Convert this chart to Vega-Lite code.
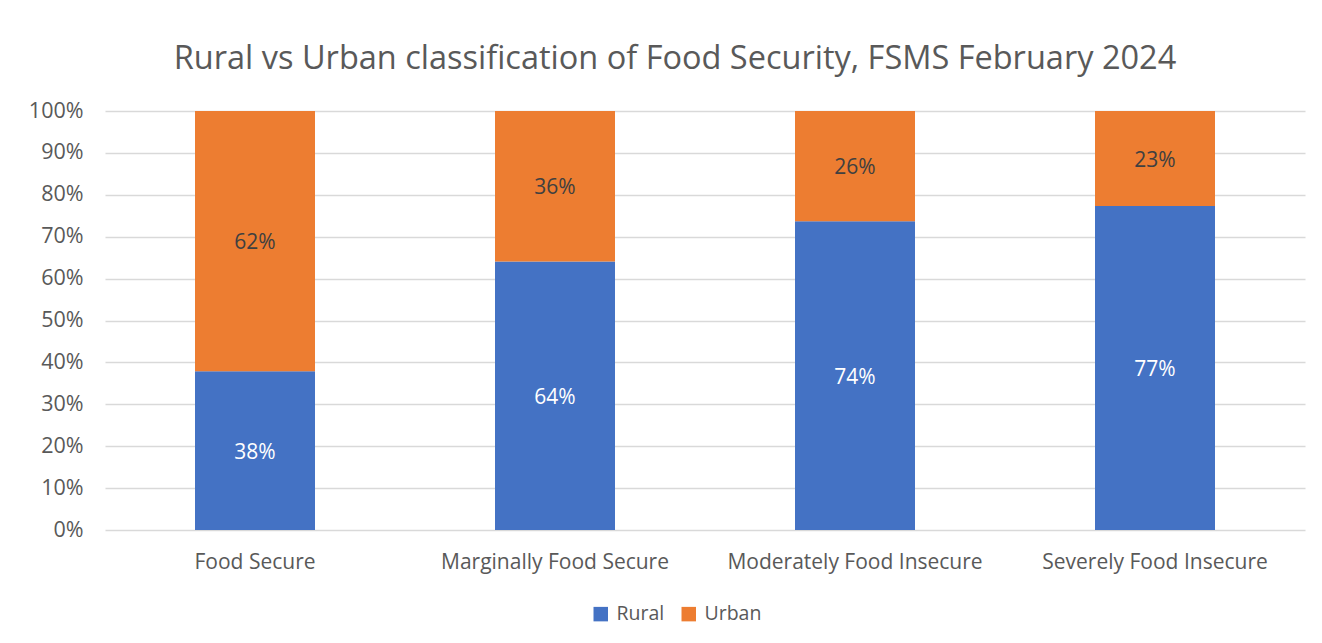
{
  "$schema": "https://vega.github.io/schema/vega-lite/v6.json",
  "autosize": {"type": "none"},
  "padding": {"left": 105, "top": 111, "right": 17, "bottom": 113},
  "width": 1200,
  "height": 419,
  "background": "white",
  "title": {
    "text": "Rural vs Urban classification of Food Security, FSMS February 2024",
    "font": "Open Sans",
    "fontSize": 32.5,
    "fontWeight": "normal",
    "color": "#595959",
    "anchor": "middle",
    "dx": -30,
    "offset": 25
  },
  "config": {
    "view": {"stroke": null},
    "font": "Open Sans"
  },
  "data": {
    "values": [
      {"category": "Food Secure", "type": "Rural", "value": 0.379},
      {"category": "Food Secure", "type": "Urban", "value": 0.621},
      {"category": "Marginally Food Secure", "type": "Rural", "value": 0.641},
      {"category": "Marginally Food Secure", "type": "Urban", "value": 0.359},
      {"category": "Moderately Food Insecure", "type": "Rural", "value": 0.737},
      {"category": "Moderately Food Insecure", "type": "Urban", "value": 0.263},
      {"category": "Severely Food Insecure", "type": "Rural", "value": 0.773},
      {"category": "Severely Food Insecure", "type": "Urban", "value": 0.227}
    ]
  },
  "transform": [
    {"stack": "value", "groupby": ["category"], "sort": [{"field": "type", "order": "ascending"}], "as": ["y0", "y1"]},
    {"calculate": "(datum.y0 + datum.y1) / 2", "as": "ymid"}
  ],
  "encoding": {
    "x": {
      "field": "category",
      "type": "nominal",
      "sort": null,
      "scale": {"paddingInner": 0.6, "paddingOuter": 0.3},
      "axis": {
        "title": null,
        "labelAngle": 0,
        "labelFont": "Open Sans",
        "labelFontSize": 21,
        "labelColor": "#595959",
        "labelPadding": 21,
        "labelLimit": 0,
        "domain": false,
        "ticks": false,
        "grid": false
      }
    }
  },
  "layer": [
    {
      "mark": {"type": "bar"},
      "encoding": {
        "y": {
          "field": "y1",
          "type": "quantitative",
          "scale": {"domain": [0, 1], "nice": false},
          "axis": {
            "title": null,
            "format": ".0%",
            "values": [0, 0.1, 0.2, 0.3, 0.4, 0.5, 0.6, 0.7, 0.8, 0.9, 1],
            "labelFont": "Open Sans",
            "labelFontSize": 21.5,
            "labelColor": "#595959",
            "labelPadding": 22,
            "domain": false,
            "ticks": false,
            "gridColor": "#d9d9d9",
            "gridWidth": 1.5
          }
        },
        "y2": {"field": "y0"},
        "color": {
          "field": "type",
          "type": "nominal",
          "scale": {"domain": ["Rural", "Urban"], "range": ["#4472c4", "#ed7d31"]},
          "legend": {
            "title": null,
            "orient": "none",
            "direction": "horizontal",
            "legendX": 486,
            "legendY": 493,
            "symbolType": "square",
            "symbolSize": 210,
            "symbolStrokeWidth": 0,
            "labelFont": "Open Sans",
            "labelFontSize": 19.5,
            "labelColor": "#595959",
            "columnPadding": 14,
            "labelOffset": 6
          }
        }
      }
    },
    {
      "mark": {"type": "text", "font": "Open Sans", "fontSize": 21, "baseline": "middle", "align": "center", "dy": 2},
      "encoding": {
        "y": {"field": "ymid", "type": "quantitative"},
        "text": {"field": "value", "type": "quantitative", "format": ".0%"},
        "color": {
          "field": "type",
          "type": "nominal",
          "scale": {"domain": ["Rural", "Urban"], "range": ["#ffffff", "#404040"]},
          "legend": null
        }
      }
    }
  ],
  "resolve": {"scale": {"color": "independent"}}
}
